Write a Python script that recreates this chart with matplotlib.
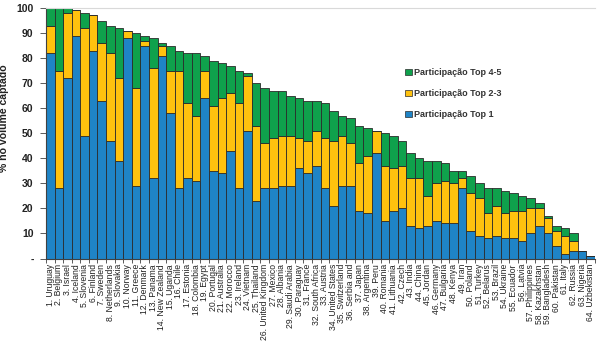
import numpy as np
import matplotlib
matplotlib.use("Agg")
import matplotlib.pyplot as plt
from matplotlib.patches import Patch

plt.rcParams['font.family'] = ['Liberation Sans', 'DejaVu Sans']

countries = [
    "Uruguay", "Belgium", "Israel", "Iceland", "Slovenia", "Finland", "Sweden",
    "Netherlands", "Slovakia", "Norway", "Greece", "Denmark", "Panama",
    "New Zealand", "Uganda", "Chile", "Estonia", "Colombia", "Egypt", "Portugal",
    "Australia", "Morocco", "Ireland", "Vietnam", "Thailand", "United Kingdom",
    "Mexico", "Albania", "Saudi Arabia", "Paraguay", "France", "South Africa",
    "Austria", "United States", "Switzerland", "Serbia and", "Japan", "Argentina",
    "Peru", "Romania", "Lithuania", "Czech", "India", "China", "Jordan",
    "Germany", "Bulgaria", "Kenya", "Iran", "Poland", "Turkey", "Belarus",
    "Brazil", "Ukraine", "Ecuador", "Latvia", "Philippines", "Kazakhstan",
    "Bangladesh", "Pakistan", "Italy", "Russia", "Nigeria", "Uzbekistan",
]

top1 = [82, 28, 72, 89, 49, 83, 63, 47, 39, 88, 29, 85, 32, 81, 58, 28,
        32, 31, 64, 35, 34, 43, 28, 51, 23, 28, 28, 29, 29, 36, 34, 37,
        28, 21, 29, 29, 19, 18, 42, 15, 19, 20, 13, 12, 13, 15, 14, 14,
        28, 11, 9, 8, 9, 8, 8, 7, 10, 13, 10, 5, 2, 3, 3, 1]
top23 = [11, 47, 26, 10, 43, 14, 23, 35, 33, 3, 39, 2, 44, 4, 17, 47,
         30, 26, 11, 26, 30, 23, 34, 22, 30, 18, 20, 20, 20, 12, 13, 14,
         20, 26, 20, 17, 19, 23, 9, 22, 17, 17, 19, 20, 12, 15, 17, 16,
         4, 15, 15, 10, 12, 10, 11, 12, 10, 7, 6, 6, 7, 4, 0, 0]
top45 = [7, 25, 2, 0, 6, 0, 9, 11, 20, 0, 22, 2, 12, 1, 10, 8,
         20, 25, 6, 18, 14, 11, 13, 1, 17, 22, 19, 18, 16, 16, 16, 12,
         14, 12, 8, 10, 15, 11, 0, 13, 13, 10, 10, 8, 14, 9, 7, 5,
         3, 7, 6, 10, 7, 9, 7, 6, 4, 2, 1, 2, 3, 3, 0, 0]

series_labels = ["Participação Top 1", "Participação Top 2-3", "Participação Top 4-5"]
colors = ["#1F84C6", "#FFC20E", "#0FA14C"]

labels = [f"{i}. {c}" for i, c in enumerate(countries, start=1)]
x = np.arange(len(countries))
b1 = np.array(top1)
b2 = np.array(top23)
b3 = np.array(top45)

fig = plt.figure(figsize=(6.0, 3.47), dpi=100)
ax = fig.add_axes([0.0767, 0.255, 0.915, 0.722])

# stacked bars: Top 1 at the bottom, then Top 2-3, then Top 4-5
edge = dict(edgecolor="#2b2b2b", linewidth=0.6, width=1.0)
ax.bar(x, b1, color=colors[0], **edge)
ax.bar(x, b2, bottom=b1, color=colors[1], **edge)
ax.bar(x, b3, bottom=b1 + b2, color=colors[2], **edge)

ax.set_xlim(-0.5, len(x) - 0.5)
ax.set_ylim(0, 100)

ax.set_yticks(range(0, 101, 10))
ax.set_yticklabels(["-"] + [str(v) for v in range(10, 101, 10)],
                   fontsize=7.5, fontweight="bold", color="#222222")
ax.tick_params(axis="y", length=4, width=0.6, color="#404040", pad=5)

ax.set_xticks(x)
ax.set_xticklabels(labels, rotation=90, fontsize=6.2, color="#222222")
ax.set_xticks(np.arange(-0.5, len(x), 1.0), minor=True)
ax.tick_params(axis="x", which="major", length=0, pad=4)
ax.tick_params(axis="x", which="minor", length=3, width=0.6, color="#404040")

ax.set_ylabel("% no volume captado", fontsize=7.6, fontweight="bold",
              color="#222222")
ax.yaxis.set_label_coords(-0.068, 0.56)

ax.spines["right"].set_visible(False)
ax.spines["top"].set_color("#d9d9d9")
ax.spines["top"].set_linewidth(0.8)
for s in ("left", "bottom"):
    ax.spines[s].set_color("#404040")
    ax.spines[s].set_linewidth(0.8)

handles = [Patch(facecolor=colors[i], edgecolor="#2b2b2b", linewidth=0.5,
                 label=series_labels[i]) for i in (2, 1, 0)]
leg = fig.legend(handles=handles, loc="upper left", bbox_to_anchor=(0.668, 0.817),
                 frameon=False, handlelength=0.7, handleheight=0.7,
                 handletextpad=0.3, labelspacing=1.35, borderpad=0,
                 prop={"weight": "bold", "size": 6.5})
for t in leg.get_texts():
    t.set_color("#333333")

fig.savefig("out.png", dpi=100)
